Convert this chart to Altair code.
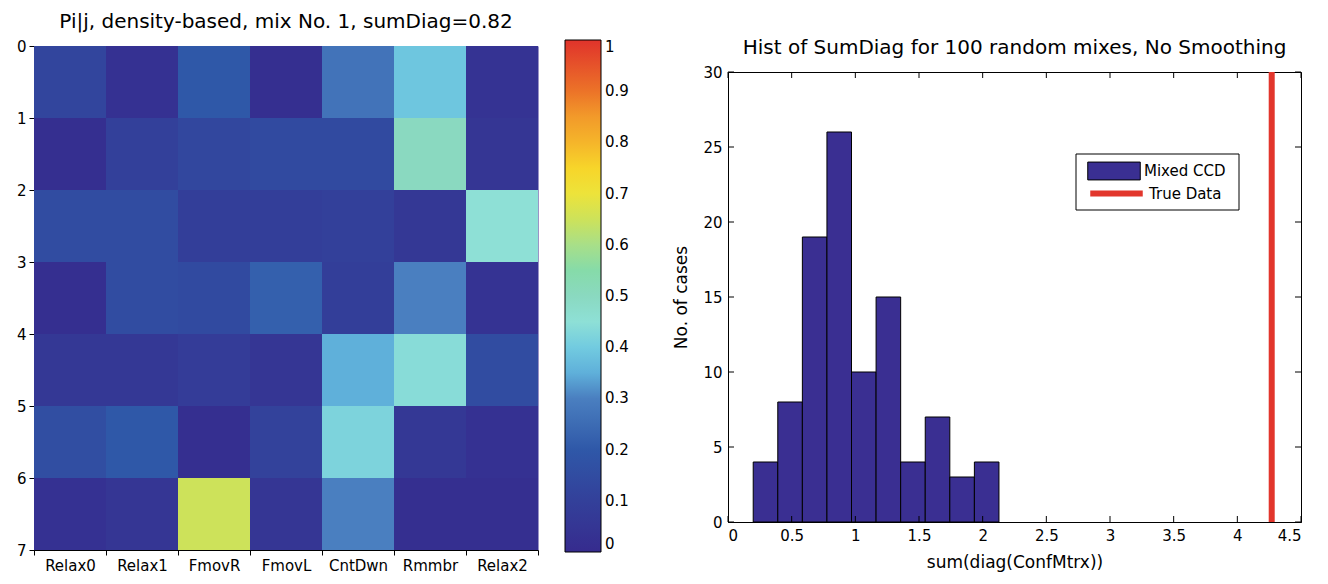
import altair as alt
import pandas as pd

FONT = "DejaVu Sans"

# ---------------- left panel: P(i|j) matrix ----------------
col_names = ["Relax0", "Relax1", "FmovR", "FmovL", "CntDwn", "Rmmbr", "Relax2"]
row_edges = [0, 1, 2, 3, 4, 5, 6, 7]
heat_rows = [
    [0.12, 0.03, 0.20, 0.02, 0.27, 0.39, 0.04],
    [0.02, 0.10, 0.13, 0.14, 0.14, 0.50, 0.05],
    [0.15, 0.15, 0.09, 0.09, 0.10, 0.06, 0.45],
    [0.02, 0.15, 0.14, 0.22, 0.09, 0.30, 0.04],
    [0.06, 0.06, 0.08, 0.05, 0.35, 0.44, 0.15],
    [0.16, 0.20, 0.02, 0.11, 0.42, 0.06, 0.03],
    [0.03, 0.05, 0.65, 0.05, 0.30, 0.02, 0.02],
]
cbar_ticks = [0, 0.1, 0.2, 0.3, 0.4, 0.5, 0.6, 0.7, 0.8, 0.9, 1]
cmap_stops = [0.0, 0.1, 0.2, 0.3, 0.35, 0.4, 0.45, 0.5, 0.55, 0.6, 0.65, 0.7, 0.75, 0.8, 0.85, 0.9, 1.0]
cmap_colors = ["#362b8e", "#33409a", "#2f58a8", "#4a7fc0", "#5fb0da", "#72cbe0", "#8ee0d6",
               "#8ad9c0", "#86dba9", "#a8df88", "#cde25a", "#ede33a", "#f7d52a", "#f5b52a",
               "#f29a2a", "#ec7328", "#e0332b"]

# ---------------- right panel: histogram ----------------
hist_edges = [0.198, 0.391, 0.584, 0.777, 0.970, 1.163, 1.356, 1.549, 1.742, 1.935, 2.128]
hist_counts = [4, 8, 19, 26, 10, 15, 4, 7, 3, 4]
true_value = [4.27]
x_ticks = [0, 0.5, 1, 1.5, 2, 2.5, 3, 3.5, 4, 4.5]
y_ticks = [0, 5, 10, 15, 20, 25, 30]
series = ["Mixed CCD", "True Data"]
series_colors = ["#3a2f92", "#e2362c"]

HW, HH = 504, 504
RW, RH = 573, 450

heat_df = pd.DataFrame(
    [{"col": col_names[c], "r": r, "r1": r + 1, "v": heat_rows[r][c]}
     for r in range(len(heat_rows)) for c in range(len(col_names))]
)

cmap = alt.Scale(domain=cmap_stops, range=cmap_colors, interpolate="rgb")

heat = alt.Chart(heat_df).mark_rect(strokeWidth=0).encode(
    x=alt.X("col:N", sort=col_names,
            scale=alt.Scale(paddingInner=0, paddingOuter=0),
            axis=alt.Axis(title=None, labelAngle=0, tickBand="extent", tickSize=5,
                          labelFontSize=15, labelPadding=3)),
    y=alt.Y("r:Q", scale=alt.Scale(domain=[0, 7], reverse=True, nice=False, zero=False),
            axis=alt.Axis(title=None, values=row_edges, grid=False, tickSize=5,
                          labelFontSize=15, labelPadding=3)),
    y2="r1:Q",
    color=alt.Color("v:Q", scale=cmap,
                    legend=alt.Legend(type="gradient", title=None, orient="none",
                                      legendX=531, legendY=-6,
                                      direction="vertical", gradientLength=512,
                                      gradientThickness=36, gradientStrokeColor="black",
                                      gradientStrokeWidth=1, values=cbar_ticks,
                                      labelExpr="format(datum.value, '~g')",
                                      labelFontSize=15, labelOverlap=False, labelOffset=4)),
).properties(
    width=HW, height=HH,
    title=alt.TitleParams("Pi|j, density-based, mix No. 1, sumDiag=0.82", fontSize=20, offset=7),
    view=alt.ViewBackground(fill="#362b8e", strokeOpacity=0),
)

bars_df = pd.DataFrame({"start": hist_edges[:-1], "end": hist_edges[1:],
                        "count": hist_counts, "series": series[0]})
true_df = pd.DataFrame({"x": true_value, "series2": series[1]})
xt_df = pd.DataFrame({"x": x_ticks})
yt_df = pd.DataFrame({"y": y_ticks})
box_df = pd.DataFrame({"k": [0]})

xscale = alt.Scale(domain=[0, 4.5], nice=False, zero=False)
yscale = alt.Scale(domain=[0, 30], nice=False, zero=False)

leg_common = dict(title=None, orient="none", direction="vertical", padding=0,
                  symbolSize=441, symbolOffset=0, labelOffset=19, labelFontSize=15,
                  labelColor="black")

bars = alt.Chart(bars_df).mark_bar(stroke="black", strokeWidth=1, opacity=1).encode(
    x=alt.X("start:Q", scale=xscale,
            axis=alt.Axis(title="sum(diag(ConfMtrx))", values=x_ticks, grid=False, tickSize=0,
                          labelExpr="format(datum.value, '~g')", labelFontSize=15,
                          labelPadding=6, titleFontSize=17, titlePadding=11)),
    x2="end:Q",
    y=alt.Y("count:Q", scale=yscale,
            axis=alt.Axis(title="No. of cases", values=y_ticks, grid=False, tickSize=0,
                          labelFontSize=15, labelPadding=6, titleFontSize=17, titlePadding=12)),
    y2=alt.datum(0),
    fill=alt.Fill("series:N", scale=alt.Scale(domain=[series[0]], range=[series_colors[0]]),
                  legend=alt.Legend(legendX=375, legendY=88,
                                    symbolType="M-2.5,-0.85H2.5V0.85H-2.5Z",
                                    symbolStrokeColor="black", symbolStrokeWidth=1,
                                    **leg_common)),
)
true_line = alt.Chart(true_df).mark_rule(strokeWidth=6).encode(
    x=alt.X("x:Q", scale=xscale),
    stroke=alt.Stroke("series2:N", scale=alt.Scale(domain=[series[1]], range=[series_colors[1]]),
                      legend=alt.Legend(legendX=375, legendY=108,
                                        symbolType="M-2.5,0H2.5", symbolStrokeWidth=6,
                                        **leg_common)),
)
legend_box = alt.Chart(box_df).mark_rect(fill="white", stroke="black", strokeWidth=1).encode(
    x=alt.value(348), x2=alt.value(511), y=alt.value(82), y2=alt.value(138))
tick_b = alt.Chart(xt_df).mark_rule(color="black", strokeWidth=1).encode(
    x=alt.X("x:Q", scale=xscale), y=alt.value(RH), y2=alt.value(RH - 6))
tick_t = alt.Chart(xt_df).mark_rule(color="black", strokeWidth=1).encode(
    x=alt.X("x:Q", scale=xscale), y=alt.value(0), y2=alt.value(6))
tick_l = alt.Chart(yt_df).mark_rule(color="black", strokeWidth=1).encode(
    y=alt.Y("y:Q", scale=yscale), x=alt.value(0), x2=alt.value(6))
tick_r = alt.Chart(yt_df).mark_rule(color="black", strokeWidth=1).encode(
    y=alt.Y("y:Q", scale=yscale), x=alt.value(RW), x2=alt.value(RW - 6))

hist = alt.layer(bars, true_line, legend_box, tick_b, tick_t, tick_l, tick_r).properties(
    width=RW, height=RH,
    title=alt.TitleParams("Hist of SumDiag for 100 random mixes, No Smoothing",
                          fontSize=20, offset=7),
)


def make_spacer():
    return alt.Chart(box_df).mark_rect(opacity=0).encode(
        x=alt.value(0), x2=alt.value(1), y=alt.value(0), y2=alt.value(1)
    ).properties(width=1, height=1, view=alt.ViewBackground(strokeOpacity=0))


res = dict(color="independent", fill="independent", stroke="independent")
left = alt.vconcat(make_spacer(), heat, spacing=0).resolve_legend(**res)
right = alt.vconcat(make_spacer(), hist, spacing=25).resolve_legend(**res)

chart = alt.hconcat(left, right, spacing=43).resolve_legend(**res).properties(
    padding={"left": 8, "top": 3, "right": 5, "bottom": 0}
).configure(
    font=FONT,
).configure_view(
    stroke="black", strokeWidth=1
).configure_axis(
    labelFont=FONT, titleFont=FONT, labelColor="black", titleColor="black",
    tickColor="black", domainColor="black", titleFontWeight="normal",
).configure_legend(
    labelFont=FONT, labelColor="black",
).configure_title(
    font=FONT, color="black", fontWeight="normal", anchor="middle",
)

chart.save("out.html", embed_options={"renderer": "svg", "actions": False})
